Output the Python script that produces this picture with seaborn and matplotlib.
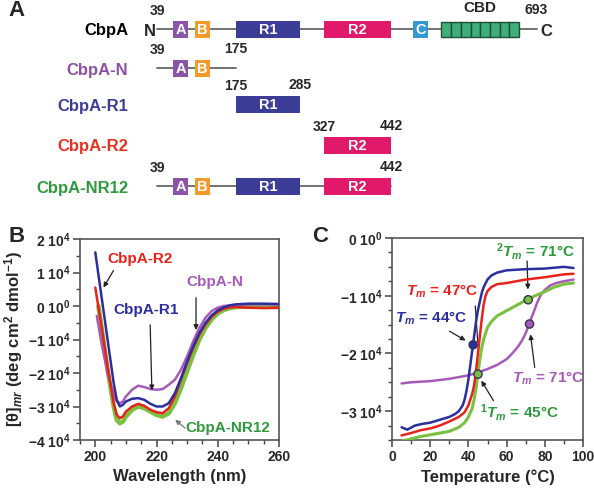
import matplotlib
matplotlib.use("Agg")
import matplotlib.pyplot as plt
from matplotlib.ticker import MultipleLocator
import pandas as pd
import seaborn as sns

# ---------------- panel A: domain map (residue numbers) ----------------
constructs = ["CbpA", "CbpA-N", "CbpA-R1", "CbpA-R2", "CbpA-NR12"]
construct_colors = ["black", "#8e4fa6", "#3b3d96", "#e8321e", "#2f9a3c"]
construct_start = [39, 39, 175, 327, 39]
construct_end = [693, 175, 285, 442, 442]
construct_domains = [["A", "B", "R1", "R2", "C", "CBD"], ["A", "B"], ["R1"], ["R2"],
                     ["A", "B", "R1", "R2"]]

domain_names = ["A", "B", "R1", "R2", "C", "CBD"]
domain_start = [67, 105, 175, 327, 480, 529]
domain_end = [92, 130, 285, 442, 506, 663]
domain_colors = ["#8a55a6", "#f39a2b", "#3b3d96", "#e0196b", "#3598d0", "#3fae78"]
cbd_repeats = 8

# ---------------- panel B: far-UV CD spectra (units of 10^4) ----------------
wl_n = [200.5, 202, 204, 206, 207, 208, 209, 210, 212, 214, 216, 218, 220, 222, 224, 226,
        228, 230, 232, 234, 236, 238, 240, 242, 245, 250, 255, 260]
cd_n = [-0.3, -1.1, -2.0, -2.65, -2.85, -2.9, -2.85, -2.7, -2.5, -2.38, -2.42, -2.48, -2.5,
        -2.48, -2.35, -2.2, -1.9, -1.5, -1.05, -0.65, -0.35, -0.15, -0.05, 0.0, 0.03, 0.05,
        0.05, 0.05]
wl_r1 = [200, 202, 204, 206, 207, 208, 209, 210, 212, 214, 216, 218, 220, 222, 224, 226,
         228, 230, 232, 234, 236, 238, 240, 242, 244, 246, 250, 255, 260]
cd_r1 = [1.6, 0.3, -1.0, -2.3, -2.8, -3.0, -2.95, -2.85, -2.77, -2.75, -2.8, -2.92, -3.0,
         -3.0, -2.9, -2.6, -2.15, -1.65, -1.2, -0.8, -0.5, -0.28, -0.13, -0.04, 0.02, 0.05,
         0.07, 0.07, 0.06]
wl_r2 = [200, 202, 204, 206, 207, 208, 209, 210, 212, 214, 216, 218, 220, 222, 224, 226,
         228, 230, 232, 234, 236, 238, 240, 242, 244, 246, 250, 255, 260]
cd_r2 = [0.55, -0.6, -1.8, -2.9, -3.25, -3.35, -3.3, -3.15, -3.0, -2.92, -2.98, -3.1, -3.17,
         -3.2, -3.05, -2.7, -2.2, -1.7, -1.25, -0.85, -0.55, -0.32, -0.17, -0.08, -0.04,
         -0.03, -0.05, -0.06, -0.05]
wl_nr12 = [201, 202, 204, 206, 207, 208, 209, 210, 212, 214, 216, 218, 220, 222, 224, 226,
           228, 230, 232, 234, 236, 238, 240, 242, 244, 246, 250, 255, 260]
cd_nr12 = [0.0, -0.6, -1.9, -3.0, -3.4, -3.5, -3.45, -3.3, -3.1, -3.0, -3.05, -3.15, -3.25,
           -3.3, -3.2, -2.9, -2.45, -1.95, -1.45, -1.0, -0.65, -0.4, -0.22, -0.12, -0.06,
           -0.03, -0.02, -0.03, -0.03]

# ---------------- panel C: thermal unfolding (units of 10^4) ----------------
t_r1 = [5, 8, 12, 16, 20, 25, 30, 33, 35, 37, 38, 39, 40, 41, 42, 43, 44, 45, 46, 47, 48,
        50, 52, 55, 60, 70, 80, 90, 95]
th_r1 = [-3.28, -3.32, -3.25, -3.22, -3.2, -3.15, -3.1, -3.05, -3.0, -2.9, -2.8, -2.65,
         -2.45, -2.2, -1.95, -1.7, -1.45, -1.25, -1.1, -0.95, -0.85, -0.72, -0.65, -0.6,
         -0.56, -0.54, -0.53, -0.5, -0.52]
t_r2 = [5, 10, 15, 20, 25, 30, 35, 38, 40, 42, 43, 44, 45, 46, 47, 48, 49, 50, 52, 55, 60,
        70, 80, 90, 95]
th_r2 = [-3.42, -3.38, -3.33, -3.3, -3.25, -3.18, -3.1, -3.02, -2.9, -2.7, -2.55, -2.3,
         -2.0, -1.7, -1.4, -1.15, -1.0, -0.92, -0.85, -0.8, -0.78, -0.72, -0.68, -0.63, -0.62]
t_nr12 = [5, 10, 15, 20, 25, 30, 35, 38, 40, 42, 43, 44, 45, 46, 47, 48, 50, 52, 55, 60, 65,
          70, 75, 80, 85, 90, 95]
th_nr12 = [-3.52, -3.48, -3.44, -3.41, -3.38, -3.35, -3.28, -3.2, -3.1, -2.95, -2.8, -2.6,
           -2.35, -2.1, -1.9, -1.75, -1.55, -1.45, -1.35, -1.26, -1.17, -1.08, -1.0, -0.93,
           -0.85, -0.8, -0.78]
t_n = [5, 10, 15, 20, 25, 30, 35, 40, 45, 50, 55, 60, 63, 66, 68, 70, 72, 74, 76, 78, 80, 83,
       86, 90, 95]
th_n = [-2.52, -2.5, -2.49, -2.48, -2.46, -2.44, -2.41, -2.38, -2.33, -2.27, -2.2, -2.1,
        -2.0, -1.88, -1.78, -1.65, -1.47, -1.3, -1.12, -0.98, -0.9, -0.82, -0.78, -0.75,
        -0.72]
tm_x = [42.5, 45, 71.3, 72]
tm_y = [-1.85, -2.36, -1.07, -1.49]
tm_colors = ["#2b2f9e", "#7ac13f", "#7ac13f", "#a65bb8"]

b_yticks = [2, 1, 0, -1, -2, -3, -4]
b_yticklabels = ["2 10$^4$", "1 10$^4$", "0 10$^0$", "−1 10$^4$", "−2 10$^4$",
                 "−3 10$^4$", "−4 10$^4$"]
c_yticks = [0, -1, -2, -3]
c_yticklabels = ["0 10$^0$", "−1 10$^4$", "−2 10$^4$", "−3 10$^4$"]

blue = "#2b2f9e"
red = "#e8221b"
purple = "#a65bb8"
lgreen = "#7ac13f"
dgreen = "#2f9a3c"

sns.set_style("ticks")
plt.rcParams["font.family"] = ["Liberation Sans", "DejaVu Sans"]
plt.rcParams["font.weight"] = "bold"
plt.rcParams["mathtext.fontset"] = "custom"
plt.rcParams["mathtext.rm"] = "Liberation Sans:bold"
plt.rcParams["mathtext.it"] = "Liberation Sans:italic:bold"
plt.rcParams["mathtext.bf"] = "Liberation Sans:bold"

fig = plt.figure(figsize=(5.94, 4.95), dpi=100)

# ---------- A ----------
axA = fig.add_axes([0, 1 - 205 / 495, 1, 205 / 495])
axA.set_xlim(-232, 792)
axA.set_ylim(205, 0)
axA.axis("off")
row_y = [29, 68, 104, 145, 186]
for i, name in enumerate(constructs):
    y = row_y[i]
    axA.text(-11, y + 2, name, ha="right", va="center", fontsize=12,
             color=construct_colors[i], fontweight="bold")
    if len(construct_domains[i]) > 1:
        axA.plot([construct_start[i], construct_end[i]], [y, y], color="#666666", lw=1.3,
                 zorder=1)
    axA.text(construct_start[i], y - 18, str(construct_start[i]), ha="center", va="center",
             fontsize=10)
    axA.text(construct_end[i], y - 19, str(construct_end[i]), ha="center", va="center",
             fontsize=10)
    for d in construct_domains[i]:
        k = domain_names.index(d)
        if d == "CBD":
            w = (domain_end[k] - domain_start[k]) / cbd_repeats
            for j in range(cbd_repeats):
                axA.barh(y, w, left=domain_start[k] + j * w, height=15,
                         color=domain_colors[k], edgecolor="#1f4f35", lw=1, zorder=2)
            axA.text((domain_start[k] + domain_end[k]) / 2, y - 21, "CBD", ha="center",
                     va="center", fontsize=11)
        else:
            axA.barh(y, domain_end[k] - domain_start[k], left=domain_start[k], height=17,
                     color=domain_colors[k], lw=0, zorder=2)
            axA.text((domain_start[k] + domain_end[k]) / 2, y + 1, d, ha="center",
                     va="center", fontsize=10.5, color="white")
axA.text(37, 31, "N", ha="right", va="center", fontsize=12)
axA.text(700, 31, "C", ha="left", va="center", fontsize=12)

# ---------- B ----------
axB = fig.add_axes([80 / 594, 1 - 440 / 495, 199 / 594, 201 / 495])
sns.lineplot(x=wl_nr12, y=cd_nr12, ax=axB, color=lgreen, lw=3.2, sort=False, zorder=2)
sns.lineplot(x=wl_n, y=cd_n, ax=axB, color=purple, lw=1.8, sort=False, zorder=3)
sns.lineplot(x=wl_r2, y=cd_r2, ax=axB, color=red, lw=1.8, sort=False, zorder=4)
sns.lineplot(x=wl_r1, y=cd_r1, ax=axB, color=blue, lw=1.8, sort=False, zorder=5)
axB.set_xlim(195, 260)
axB.set_ylim(-4, 2)
axB.set_xticks([200, 220, 240, 260])
axB.xaxis.set_minor_locator(MultipleLocator(5))
axB.set_yticks(b_yticks)
axB.set_yticklabels(b_yticklabels)
axB.yaxis.set_minor_locator(MultipleLocator(0.5))
axB.set_xlabel("Wavelength (nm)", fontsize=12, fontweight="bold", labelpad=4)
axB.set_ylabel("[θ]$_{mr}$ (deg cm$^2$ dmol$^{-1}$)", fontsize=12, fontweight="bold",
               labelpad=2)

axB.text(214.6, 1.4, "CbpA-R2", color=red, fontsize=11, ha="center", va="center")
axB.annotate("", xy=(202.2, 0.48), xytext=(206.4, 1.13),
             arrowprops=dict(arrowstyle="-|>", color="#222222", lw=0.9, mutation_scale=7))
axB.text(239.1, 0.72, "CbpA-N", color=purple, fontsize=11, ha="center", va="center")
axB.annotate("", xy=(232.9, -0.8), xytext=(232.9, 0.33),
             arrowprops=dict(arrowstyle="-|>", color="#222222", lw=0.9, mutation_scale=7))
axB.text(216.6, -0.12, "CbpA-R1", color=blue, fontsize=11, ha="center", va="center")
axB.annotate("", xy=(218.5, -2.6), xytext=(217.9, -0.48),
             arrowprops=dict(arrowstyle="-|>", color="#222222", lw=0.9, mutation_scale=7))
axB.text(243.4, -3.64, "CbpA-NR12", color=dgreen, fontsize=11, ha="center", va="center")
axB.annotate("", xy=(225.4, -3.34), xytext=(230, -3.7),
             arrowprops=dict(arrowstyle="-|>", color="#777777", lw=0.9, mutation_scale=7))

# ---------- C ----------
axC = fig.add_axes([392 / 594, 1 - 440 / 495, 191 / 594, 202 / 495])
sns.lineplot(x=t_n, y=th_n, ax=axC, color=purple, lw=1.8, sort=False, zorder=2)
sns.lineplot(x=t_nr12, y=th_nr12, ax=axC, color=lgreen, lw=2.2, sort=False, zorder=3)
sns.lineplot(x=t_r2, y=th_r2, ax=axC, color=red, lw=1.8, sort=False, zorder=4)
sns.lineplot(x=t_r1, y=th_r1, ax=axC, color=blue, lw=1.8, sort=False, zorder=5)
sns.scatterplot(x=tm_x, y=tm_y, ax=axC, hue=tm_x, palette=tm_colors, legend=False, s=35,
                edgecolor="#333355", linewidth=1, zorder=6)
axC.set_xlim(0, 100)
axC.set_ylim(-3.5, 0)
axC.set_xticks([0, 20, 40, 60, 80, 100])
axC.xaxis.set_minor_locator(MultipleLocator(10))
axC.set_yticks(c_yticks)
axC.set_yticklabels(c_yticklabels)
axC.yaxis.set_minor_locator(MultipleLocator(0.25))
axC.set_xlabel("Temperature (°C)", fontsize=12, fontweight="bold", labelpad=4)

axC.text(26.2, -0.92, "$T_m$ = 47°C", color=red, fontsize=11, ha="center", va="center")
axC.annotate("", xy=(45, -1.85), xytext=(43.5, -1.13),
             arrowprops=dict(arrowstyle="-", color="#222222", lw=0.9))
axC.text(20.4, -1.39, "$T_m$ = 44°C", color=blue, fontsize=11, ha="center", va="center")
axC.annotate("", xy=(39.8, -1.8), xytext=(28.8, -1.59),
             arrowprops=dict(arrowstyle="-|>", color="#222222", lw=0.9, mutation_scale=7))
axC.text(74.9, -0.24, "$^2T_m$ = 71°C", color=dgreen, fontsize=11, ha="center", va="center")
axC.annotate("", xy=(71.2, -0.94), xytext=(70.7, -0.35),
             arrowprops=dict(arrowstyle="-|>", color="#222222", lw=0.9, mutation_scale=7))
axC.text(81.7, -2.43, "$T_m$ = 71°C", color=purple, fontsize=11, ha="center", va="center")
axC.annotate("", xy=(72.3, -1.62), xytext=(74.9, -2.29),
             arrowprops=dict(arrowstyle="-|>", color="#222222", lw=0.9, mutation_scale=7))
axC.text(66.5, -3.02, "$^1T_m$ = 45°C", color=dgreen, fontsize=11, ha="center", va="center")
axC.annotate("", xy=(46, -2.43), xytext=(53.9, -2.86),
             arrowprops=dict(arrowstyle="-|>", color="#222222", lw=0.9, mutation_scale=7))

for ax in (axB, axC):
    for s in ax.spines.values():
        s.set_visible(True)
        s.set_color("#555555")
        s.set_linewidth(1.2)
    ax.tick_params(which="major", direction="out", length=5, width=1.1, labelsize=10,
                   color="#444444", pad=2)
    ax.tick_params(which="minor", direction="out", length=3, width=1, color="#444444")
    for lab in ax.get_xticklabels() + ax.get_yticklabels():
        lab.set_fontweight("bold")

fig.text(8 / 594, 1 - 10 / 495, "A", fontsize=16, fontweight="bold", va="center")
fig.text(8 / 594, 1 - 236 / 495, "B", fontsize=16, fontweight="bold", va="center")
fig.text(312 / 594, 1 - 236 / 495, "C", fontsize=16, fontweight="bold", va="center")

fig.savefig("out.png", dpi=100)
